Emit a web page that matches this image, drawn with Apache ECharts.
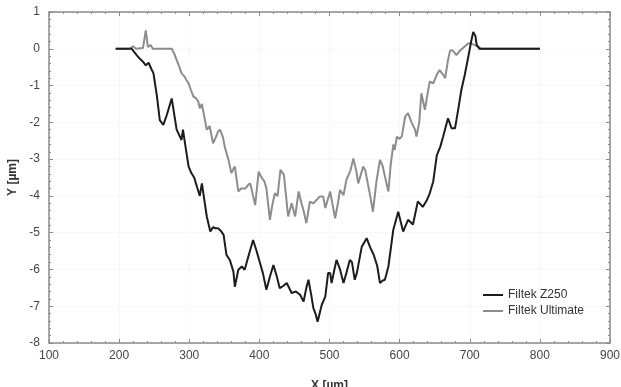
<!DOCTYPE html>
<html>
<head>
<meta charset="utf-8">
<script src="https://cdn.jsdelivr.net/npm/echarts@6/dist/echarts.min.js"></script>
<style>
  html, body { margin: 0; padding: 0; background: #fff; }
  #chart { width: 621px; height: 387px; }
</style>
</head>
<body>
<div id="chart"></div>
<script>
// profile data
const seriesNames = ['Filtek Z250', 'Filtek Ultimate']

const z250X = [195, 218, 225, 230, 234, 238, 242, 246, 249, 254, 258, 263, 268, 275, 282, 289, 291, 295, 299, 303,
  307, 311, 315, 318, 320, 325, 330, 334, 337, 341, 345, 349, 353, 358, 363, 365, 367, 370, 375, 379,
  385, 391, 396, 401, 405, 410, 415, 420, 425, 429, 434, 439, 446, 452, 458, 463, 467, 470, 474, 477,
  480, 483, 486, 489, 494, 498, 501, 503, 507, 510, 515, 520, 524, 529, 532, 536, 539, 546, 553, 558,
  563, 568, 572, 576, 579, 584, 591, 598, 605, 612, 619, 626, 633, 639, 643, 648, 653, 658, 662, 669,
  674, 679, 684, 688, 693, 698, 702, 705, 708, 710, 714, 750, 800]
const z250Y = [0, 0, -0.17, -0.28, -0.35, -0.45, -0.38, -0.55, -0.67, -1.3, -1.94, -2.07, -1.8, -1.35, -2.2, -2.48, -2.2, -2.7, -3.2, -3.38,
  -3.5, -3.75, -4.0, -3.66, -3.66, -4.56, -4.97, -4.85, -4.88, -4.88, -4.95, -5.06, -5.6, -5.75, -6.06, -6.47, -6.42, -6.01, -5.92, -6.01,
  -5.6, -5.2, -5.5, -5.83, -6.1, -6.55, -6.2, -5.88, -6.2, -6.51, -6.45, -6.37, -6.64, -6.6, -6.69, -6.87, -6.5, -6.28, -6.7, -7.05,
  -7.2, -7.42, -7.19, -6.96, -6.74, -6.1, -6.1, -6.37, -6.0, -5.74, -6.0, -6.37, -6.1, -5.74, -5.8, -6.28, -6.1, -5.38, -5.15, -5.4,
  -5.6, -5.9, -6.37, -6.3, -6.28, -5.92, -4.92, -4.43, -4.97, -4.65, -4.78, -4.15, -4.3, -4.11, -3.93, -3.6, -2.9, -2.66, -2.39, -1.89,
  -2.16, -2.16, -1.6, -1.12, -0.7, -0.21, 0.2, 0.46, 0.35, 0.1, 0, 0, 0]

const ultimateX = [195, 215, 220, 224, 234, 238, 241, 245, 248, 275, 279, 282, 286, 289, 293, 296, 299, 302, 306, 310,
  313, 315, 318, 322, 325, 329, 334, 338, 341, 344, 348, 351, 356, 360, 365, 370, 374, 380, 384, 387,
  391, 394, 399, 403, 407, 410, 415, 418, 422, 426, 430, 435, 438, 441, 446, 451, 456, 460, 463, 467,
  472, 477, 482, 486, 491, 494, 496, 501, 504, 508, 512, 515, 520, 524, 530, 534, 538, 541, 545, 548,
  551, 555, 558, 562, 567, 572, 576, 579, 584, 587, 591, 593, 596, 600, 603, 608, 612, 617, 622, 624,
  628, 631, 636, 640, 643, 648, 653, 657, 662, 665, 669, 672, 676, 681, 686, 692, 698, 705, 712, 716, 800]
const ultimateY = [0, 0, 0.07, 0, 0.02, 0.5, 0.05, 0.1, 0, 0, -0.15, -0.3, -0.5, -0.67, -0.75, -0.85, -0.94, -1.1, -1.3, -1.35,
  -1.44, -1.62, -1.5, -1.9, -2.2, -2.1, -2.57, -2.4, -2.25, -2.2, -2.4, -2.7, -3.02, -3.38, -3.2, -3.88, -3.8, -3.8, -3.7, -3.66,
  -4.0, -4.25, -3.34, -3.5, -3.6, -3.79, -4.65, -4.3, -3.93, -4.0, -3.29, -3.43, -4.0, -4.56, -4.2, -4.56, -3.88, -4.2, -4.4, -4.74,
  -4.16, -4.2, -4.1, -4.02, -4.02, -4.33, -4.38, -3.88, -4.2, -4.61, -4.2, -3.84, -3.98, -3.57, -3.3, -2.98, -3.3, -3.66, -3.4, -3.2,
  -3.3, -3.7, -4.0, -4.43, -3.6, -3.02, -3.2, -3.47, -3.88, -3.2, -2.6, -2.75, -2.39, -2.45, -2.39, -1.84, -1.75, -2.0, -2.2, -2.39,
  -2.0, -1.21, -1.66, -1.2, -0.89, -0.94, -0.7, -0.58, -0.7, -0.8, -0.3, -0.05, -0.05, -0.17, -0.05, 0.05, 0.15, 0.12, 0.06, 0, 0]

const textColor = '#444'
const axisColor = '#8a8a8a'
const fontFamily = '"Liberation Sans", Arial, sans-serif'

const pairs = (xs, ys) => xs.map((x, i) => [x, ys[i]])

const frameAxis = {
  axisLine: { show: true, onZero: false, lineStyle: { color: axisColor, width: 1.5 } },
  axisTick: { show: true, inside: true, length: 4, lineStyle: { color: axisColor } },
  minorTick: { show: true, splitNumber: 5, length: 2, lineStyle: { color: axisColor } },
}

const chart = echarts.init(document.getElementById('chart'))

chart.setOption({
  backgroundColor: '#fff',
  animation: false,
  grid: { left: 49, right: 11, top: 12, bottom: 44, containLabel: false, outerBoundsMode: 'none' },
  legend: {
    orient: 'vertical',
    left: 478,
    top: 284,
    itemGap: 4,
    itemWidth: 20,
    itemHeight: 2,
    icon: 'rect',
    textStyle: { color: '#333', fontSize: 12, fontFamily },
    data: seriesNames,
  },
  xAxis: [
    {
      type: 'value',
      min: 100,
      max: 900,
      interval: 100,
      name: 'X [µm]',
      nameLocation: 'middle',
      nameGap: 37,
      nameTextStyle: { color: '#333', fontSize: 12, fontWeight: 'bold', fontFamily },
      axisLabel: { color: textColor, fontSize: 12, fontFamily, margin: 7 },
      splitLine: { show: true, lineStyle: { color: '#f0f0f0', type: 'dotted' } },
      ...frameAxis,
    },
    {
      type: 'value',
      position: 'top',
      min: 100,
      max: 900,
      interval: 100,
      axisLabel: { show: false },
      splitLine: { show: false },
      ...frameAxis,
    },
  ],
  yAxis: [
    {
      type: 'value',
      min: -8,
      max: 1,
      interval: 1,
      name: 'Y [µm]',
      nameLocation: 'middle',
      nameGap: 30,
      nameRotate: 90,
      nameTextStyle: { color: '#333', fontSize: 12, fontWeight: 'bold', fontFamily },
      axisLabel: { color: textColor, fontSize: 12, fontFamily, margin: 9 },
      splitLine: { show: true, lineStyle: { color: '#f0f0f0', type: 'dotted' } },
      ...frameAxis,
    },
    {
      type: 'value',
      position: 'right',
      min: -8,
      max: 1,
      interval: 1,
      axisLabel: { show: false },
      splitLine: { show: false },
      ...frameAxis,
    },
  ],
  series: [
    {
      name: seriesNames[0],
      type: 'line',
      data: pairs(z250X, z250Y),
      showSymbol: false,
      symbol: 'none',
      z: 3,
      itemStyle: { color: '#1c1c1c' },
      lineStyle: { color: '#1c1c1c', width: 2 },
    },
    {
      name: seriesNames[1],
      type: 'line',
      data: pairs(ultimateX, ultimateY),
      showSymbol: false,
      symbol: 'none',
      z: 2,
      itemStyle: { color: '#8d8d8d' },
      lineStyle: { color: '#8d8d8d', width: 2 },
    },
  ],
})
</script>
</body>
</html>
